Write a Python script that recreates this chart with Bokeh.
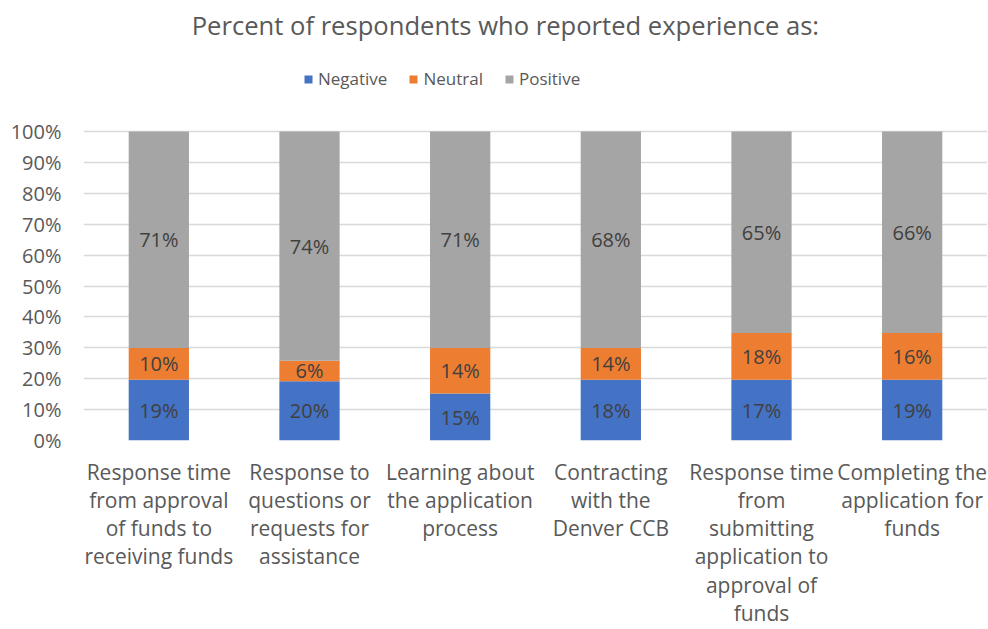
from bokeh.plotting import figure
from bokeh.models import ColumnDataSource, FactorRange, NumeralTickFormatter, Legend, LegendItem, FixedTicker, Range1d, Label
from bokeh.core.properties import value
from bokeh.embed import file_html
from bokeh.resources import INLINE

categories = [
    "Response time\nfrom approval\nof funds to\nreceiving funds",
    "Response to\nquestions or\nrequests for\nassistance",
    "Learning about\nthe application\nprocess",
    "Contracting\nwith the\nDenver CCB",
    "Response time\nfrom\nsubmitting\napplication to\napproval of\nfunds",
    "Completing the\napplication for\nfunds",
]
series_names = ["Negative", "Neutral", "Positive"]
# bar heights as drawn (percent of bar)
negative = [19.7, 19.2, 15.2, 19.7, 19.7, 19.7]
neutral = [10.2, 6.6, 14.7, 10.2, 15.1, 15.1]
positive = [70.1, 74.2, 70.1, 70.1, 65.2, 65.2]
# data labels as printed on the bars
negative_labels = ["19%", "20%", "15%", "18%", "17%", "19%"]
neutral_labels = ["10%", "6%", "14%", "14%", "18%", "16%"]
positive_labels = ["71%", "74%", "71%", "68%", "65%", "66%"]
y_ticks = [0, 0.1, 0.2, 0.3, 0.4, 0.5, 0.6, 0.7, 0.8, 0.9, 1.0]
title_text = "Percent of respondents who reported experience as:"

colors = ["#4472C4", "#ED7D31", "#A5A5A5"]
FONT = "Open Sans"

# layout (pixels)
LEFT, FRAME_W = 83, 904
PLOT_TOP, PLOT_BOTTOM = 131, 440   # y of 100% and 0%
CANVAS_H = 628
Y_TOP = PLOT_BOTTOM / (PLOT_BOTTOM - PLOT_TOP)  # frame extends up to canvas top

# 100% stacking
totals = [a + b + c for a, b, c in zip(negative, neutral, positive)]
data = {"x": categories}
bottoms = [0.0] * len(categories)
for name, vals, labs in zip(series_names, [negative, neutral, positive],
                            [negative_labels, neutral_labels, positive_labels]):
    fr = [v / t for v, t in zip(vals, totals)]
    tops = [b + f for b, f in zip(bottoms, fr)]
    data[name + "_b"] = list(bottoms)
    data[name + "_t"] = tops
    data[name + "_m"] = [(b + t) / 2 for b, t in zip(bottoms, tops)]
    data[name + "_l"] = labs
    bottoms = tops
source = ColumnDataSource(data)

p = figure(
    frame_width=FRAME_W, frame_height=PLOT_BOTTOM,
    x_range=FactorRange(*categories, range_padding=0),
    y_range=Range1d(0, Y_TOP),
    output_backend="svg", toolbar_location=None,
    min_border_left=LEFT, min_border_right=0, min_border_top=0,
    min_border_bottom=CANVAS_H - PLOT_BOTTOM,
)
p.outline_line_color = None
p.background_fill_color = "white"
p.border_fill_color = "white"

items = []
for name, col in zip(series_names, colors):
    r = p.vbar(x="x", bottom=name + "_b", top=name + "_t", width=0.4, source=source,
               fill_color=col, line_color=None)
    items.append(LegendItem(label=name, renderers=[r]))
for name in series_names:
    p.text(x="x", y=name + "_m", text=name + "_l", source=source,
           text_align="center", text_baseline="middle",
           text_font=value(FONT), text_font_size="20px", text_color="#404040")

# title
title = Label(x=2.8, y=(PLOT_BOTTOM - 25) / (PLOT_BOTTOM - PLOT_TOP), text=title_text,
              text_align="center", text_baseline="middle",
              text_font=FONT, text_font_size="25.6px", text_color="#595959")
p.add_layout(title)

legend = Legend(items=items, orientation="horizontal", location=(220, PLOT_BOTTOM - 90),
                label_text_font=FONT, label_text_font_size="17px", label_text_color="#595959",
                glyph_width=10, glyph_height=10, label_standoff=5, spacing=21,
                label_height=20,
                border_line_color=None, background_fill_alpha=0,
                padding=0, margin=0)
p.add_layout(legend, "center")

# axes
p.yaxis.ticker = FixedTicker(ticks=y_ticks)
p.yaxis.formatter = NumeralTickFormatter(format="0%")
p.yaxis.axis_line_color = None
p.yaxis.major_tick_line_color = None
p.yaxis.minor_tick_line_color = None
p.yaxis.major_tick_out = 0
p.yaxis.major_label_standoff = 22
p.yaxis.major_label_text_font = FONT
p.yaxis.major_label_text_font_size = "20px"
p.yaxis.major_label_text_color = "#595959"

p.xaxis.axis_line_color = None
p.xaxis.major_tick_line_color = None
p.xaxis.major_tick_out = 0
p.xaxis.major_label_standoff = 17
p.xaxis.major_label_text_font = FONT
p.xaxis.major_label_text_font_size = "21px"
p.xaxis.major_label_text_color = "#595959"
p.xaxis.major_label_text_line_height = 1.01

p.xgrid.grid_line_color = None
p.ygrid.ticker = FixedTicker(ticks=y_ticks)
p.ygrid.grid_line_color = "#D9D9D9"
p.ygrid.grid_line_width = 1.5

open("out.html", "w").write(file_html(p, INLINE))
